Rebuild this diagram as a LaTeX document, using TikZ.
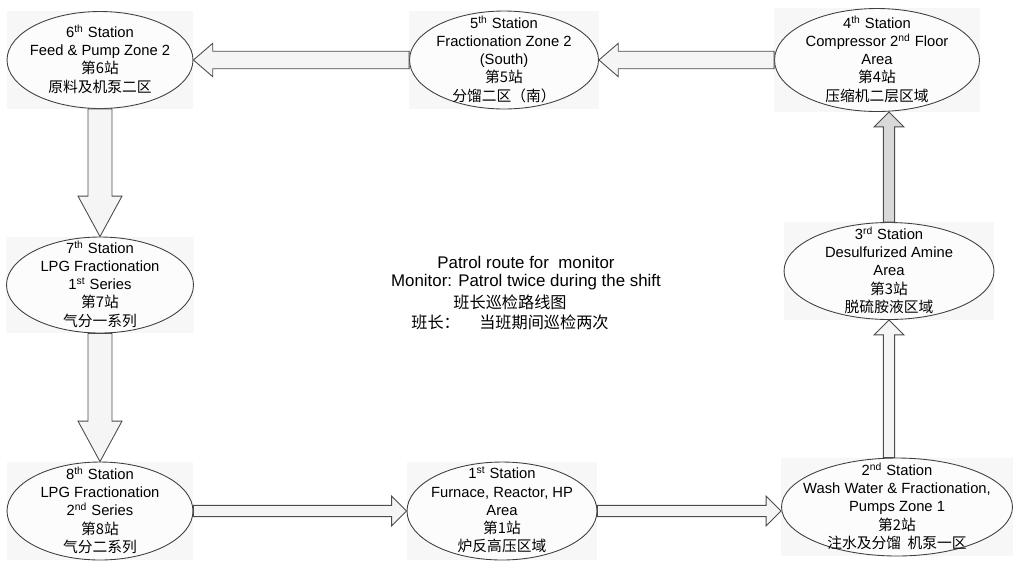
\documentclass[tikz,border=0pt]{standalone}
\usepackage{fontspec}
\setmainfont{Liberation Sans}
\newfontfamily\cjk{Noto Sans CJK SC}
\usepackage{tikz}
\usetikzlibrary{shapes.geometric, calc, backgrounds}
\tikzset{shaft half/.store in=\shafthalf, shaft half=3.2pt,
         head half/.store in=\headhalf, head half=8.5pt,
         head len/.store in=\headlen, head len=8.5pt}
\tikzstyle{station} = [ellipse, draw=black!75, fill=black!1, line width=0.5pt, inner sep=0pt]
\tikzstyle{stationbg} = [fill=black!3]
\tikzstyle{blockarrow} = [draw=black!70, fill=black!4, line width=0.5pt, line join=miter,
  to path={($(\tikztostart)!\shafthalf!90:(\tikztotarget)$)
    -- ($(\tikztotarget)!\headlen!(\tikztostart)!\shafthalf!-90:(\tikztostart)$)
    -- ($(\tikztotarget)!\headlen!(\tikztostart)!\headhalf!-90:(\tikztostart)$)
    -- (\tikztotarget)
    -- ($(\tikztotarget)!\headlen!(\tikztostart)!\headhalf!90:(\tikztostart)$)
    -- ($(\tikztotarget)!\headlen!(\tikztostart)!\shafthalf!90:(\tikztostart)$)
    -- ($(\tikztostart)!\shafthalf!-90:(\tikztotarget)$) -- cycle}]
\tikzstyle{bigarrow} = [blockarrow, shaft half=5pt, head half=9.5pt, head len=11pt]
\tikzstyle{downarrow} = [blockarrow, shaft half=6.8pt, head half=12.5pt, head len=23pt]
\newcommand{\stn}[1]{\smash{\raisebox{-2pt}{\makebox[0pt]{\parbox[c]{5cm}{\centering\fontsize{8.4}{10.4}\selectfont #1}}}}}

\begin{document}
\begin{tikzpicture}[x=0.02cm, y=-0.02cm]
    \useasboundingbox (0,0) rectangle (1017,562);
    % stations, in patrol order
    \node (s1) [station, minimum width=3.8cm, minimum height=1.96cm] at (502,511)
        {\stn{1\textsuperscript{st} Station\\ Furnace, Reactor, HP\\ Area\\ {\cjk 第1站}\\ {\cjk 炉反高压区域}}};
    \node (s2) [station, minimum width=4.62cm, minimum height=1.96cm] at (897,507)
        {\stn{2\textsuperscript{nd} Station\\ Wash Water \& Fractionation,\\ Pumps Zone 1\\ {\cjk 第2站}\\ {\cjk 注水及分馏\ \ 机泵一区}}};
    \node (s3) [station, minimum width=4.2cm, minimum height=1.94cm] at (889,271)
        {\stn{3\textsuperscript{rd} Station\\ Desulfurized Amine\\ Area\\ {\cjk 第3站}\\ {\cjk 脱硫胺液区域}}};
    \node (s4) [station, minimum width=4.1cm, minimum height=2.06cm] at (877,60)
        {\stn{4\textsuperscript{th} Station\\ Compressor 2\textsuperscript{nd} Floor\\ Area\\ {\cjk 第4站}\\ {\cjk 压缩机二层区域}}};
    \node (s5) [station, minimum width=3.78cm, minimum height=1.96cm] at (504,60)
        {\stn{5\textsuperscript{th} Station\\ Fractionation Zone 2\\ (South)\\ {\cjk 第5站}\\ {\cjk 分馏二区（南）}}};
    \node (s6) [station, minimum width=3.72cm, minimum height=1.94cm] at (100,60)
        {\stn{6\textsuperscript{th} Station\\ Feed \& Pump Zone 2\\ {\cjk 第6站}\\ {\cjk 原料及机泵二区}}};
    \node (s7) [station, minimum width=3.74cm, minimum height=1.92cm] at (100,285)
        {\stn{7\textsuperscript{th} Station\\ LPG Fractionation\\ 1\textsuperscript{st} Series\\ {\cjk 第7站}\\ {\cjk 气分一系列}}};
    \node (s8) [station, minimum width=3.72cm, minimum height=1.96cm] at (100,511)
        {\stn{8\textsuperscript{th} Station\\ LPG Fractionation\\ 2\textsuperscript{nd} Series\\ {\cjk 第8站}\\ {\cjk 气分二系列}}};
    % route
    \draw [blockarrow] (s1.east) to (s2.west |- s1.east);
    \draw [blockarrow] (s2.north -| s3.south) to (s3.south);
    \draw [blockarrow, fill=black!15] (s3.north) to (s4.south -| s3.north);
    \draw [bigarrow] (s4.west) to (s5.east);
    \draw [bigarrow] (s5.west) to (s6.east);
    \draw [downarrow] (s6.south) to (s7.north);
    \draw [downarrow] (s7.south) to (s8.north);
    \draw [blockarrow] (s8.east) to (s1.west);
    % title
    \node (title) [align=center, font=\fontsize{9.6}{10.4}\selectfont] at (526,273)
        {Patrol route for\ \ monitor\\ Monitor: Patrol twice during the shift};
    \node (titlecn) [align=center, font=\cjk\fontsize{9.2}{11.4}\selectfont] at (510,312)
        {班长巡检路线图\\ 班长：\hspace{1.2em}当班期间巡检两次};
    \begin{scope}[on background layer]
        \foreach \s in {s1,s2,s3,s4,s5,s6,s7,s8}
            \fill [stationbg] (\s.west |- \s.north) rectangle (\s.east |- \s.south);
    \end{scope}
\end{tikzpicture}
\end{document}
